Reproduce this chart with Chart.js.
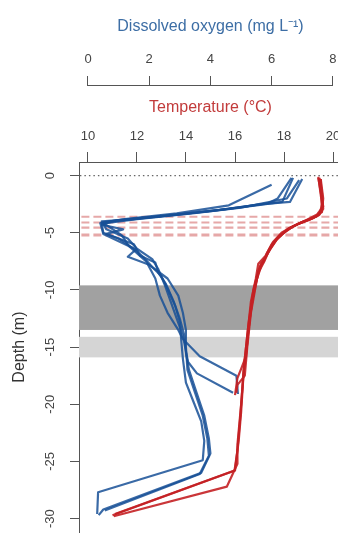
<!DOCTYPE html>
<html>
<head>
<meta charset="utf-8">
<script src="https://cdn.jsdelivr.net/npm/chart.js@4.4.1/dist/chart.umd.min.js"></script>
<style>
  html, body { margin: 0; padding: 0; background: #fff; overflow: hidden; }
  #wrap { width: 350px; height: 550px; }
</style>
</head>
<body>
<div id="wrap"><canvas id="chart" width="350" height="550"></canvas></div>
<script>
// tick labels
const oxyTicks = [0, 2, 4, 6, 8];
const tempTicks = [10, 12, 14, 16, 18, 20];
const depthTicks = [-30, -25, -20, -15, -10, -5, 0];

// dissolved oxygen profiles (mg/L) with their depths (m)
const oxyDepth1 = [-0.3, -2.3, -2.5, -3.0, -3.5, -3.9, -4.15, -5.1, -6.3, -7.1, -8.0, -8.8, -9.9, -11.4, -12.8, -14.5, -16, -18.1, -19.8, -21.5, -23.2, -24.9, -27.7, -29.6];
const oxy1 = [7.0, 6.6, 5.7, 4.3, 2.5, 1.0, 0.4, 0.5, 1.45, 1.8, 2.1, 2.4, 2.6, 2.85, 3.0, 3.05, 3.1, 3.2, 3.45, 3.7, 3.8, 3.75, 0.33, 0.3];
const oxyDepth2 = [-0.2, -2.3, -2.6, -3.1, -3.6, -4.0, -4.3, -4.7, -5.1, -6.0, -7.0, -7.6, -8.5, -9.5, -11, -12.5, -14, -15.5, -17, -19, -21, -23, -24.3, -26, -29.2, -29.7];
const oxy2 = [6.7, 6.35, 5.5, 4.0, 2.2, 0.8, 0.45, 1.15, 0.6, 1.5, 1.7, 2.2, 2.3, 2.55, 2.8, 3.0, 3.15, 3.2, 3.3, 3.55, 3.8, 3.95, 4.0, 3.7, 0.5, 0.35];
const oxyDepth3 = [-0.4, -2.0, -2.8, -3.3, -3.8, -4.2, -5.0, -5.5, -6.5, -7.1, -7.8, -9, -10.5, -12, -13.5, -15, -17, -19, -21, -23, -24.5, -26.1, -29.3];
const oxy3 = [6.9, 6.5, 5.0, 3.4, 1.6, 0.45, 0.5, 1.0, 1.55, 1.3, 2.0, 2.6, 2.95, 3.1, 3.2, 3.2, 3.25, 3.5, 3.75, 3.9, 3.95, 3.65, 0.55];
const oxyDepth4 = [-0.8, -2.6, -3.3, -3.8, -4.1, -4.5, -5.2, -6.2, -7.5, -9.0, -10.5, -12, -13.5, -14.3, -15.8, -17.5, -19.1];
const oxy4 = [6.0, 4.6, 2.9, 1.2, 0.45, 0.7, 1.1, 1.35, 1.9, 2.2, 2.35, 2.6, 2.95, 3.1, 3.65, 4.85, 4.9];
const oxyDepth5 = [-0.2, -2.0, -2.4, -2.9, -3.4, -3.8, -4.0, -4.7, -5.5, -6.4, -7.3, -8.2, -9.5, -11, -12.5, -14, -16.3, -17.3, -19.0];
const oxy5 = [6.65, 6.2, 5.9, 4.6, 3.0, 1.5, 0.45, 0.6, 1.3, 1.6, 2.1, 2.3, 2.5, 2.7, 2.9, 3.1, 3.27, 3.56, 4.74];

// temperature profiles (°C) with their depths (m)
const tempDepth1 = [-0.2, -1.5, -2.9, -3.5, -3.9, -4.3, -4.8, -5.6, -6.4, -7.7, -9.7, -12.5, -14.7, -17.3, -20.7, -23.2, -24.9, -25.8, -29.7];
const temp1 = [19.45, 19.55, 19.6, 19.4, 19.0, 18.5, 18.1, 17.7, 17.45, 17.1, 16.8, 16.6, 16.5, 16.35, 16.25, 16.15, 16.05, 16.0, 11.0];
const tempDepth2 = [-0.3, -2.0, -3.2, -3.7, -4.1, -4.5, -5.0, -5.8, -6.8, -7.6, -8.0, -10, -13, -16, -20, -23.5, -25.2, -27.2, -29.8];
const temp2 = [19.5, 19.6, 19.55, 19.2, 18.7, 18.3, 17.9, 17.55, 17.3, 17.15, 17.0, 16.75, 16.55, 16.4, 16.25, 16.1, 16.1, 15.67, 11.05];
const tempDepth3 = [-0.1, -2.5, -3.4, -3.8, -4.2, -4.6, -5.2, -6.0, -7.0, -7.7, -9, -11, -14, -17, -21, -24, -25.8, -29.6];
const temp3 = [19.4, 19.55, 19.45, 19.1, 18.6, 18.2, 17.85, 17.5, 17.25, 16.95, 16.85, 16.65, 16.5, 16.35, 16.22, 16.1, 15.98, 11.1];
const tempDepth4 = [-0.2, -2.7, -3.4, -3.9, -4.4, -5.0, -5.7, -6.5, -7.5, -8.5, -11, -14, -15.8, -16.9, -17.7, -19.2];
const temp4 = [19.4, 19.6, 19.35, 18.9, 18.4, 18.0, 17.65, 17.4, 17.2, 16.95, 16.7, 16.52, 16.45, 16.25, 16.1, 16.0];
const tempDepth5 = [-0.3, -3.0, -3.6, -4.0, -4.6, -5.3, -6.2, -7.3, -7.7, -9, -12, -15, -17.5, -18.3, -19.0];
const temp5 = [19.5, 19.55, 19.3, 18.8, 18.25, 17.8, 17.5, 17.2, 17.05, 16.9, 16.65, 16.5, 16.4, 16.1, 16.05];

// depth layers
const thermoclineDepths = [-3.6, -4.1, -4.55, -5.2];
const darkBand = [-9.6, -13.5];
const lightBand = [-14.1, -15.9];

const BLUE = "rgba(24, 80, 150, 0.85)";
const RED = "rgba(196, 32, 36, 0.9)";
const FONT = "'Liberation Sans', Arial, sans-serif";

function toPoints(vals, depths) {
  return vals.map((v, i) => ({ x: v, y: depths[i] }));
}

function profile(vals, depths, axis, color) {
  return {
    data: toPoints(vals, depths),
    xAxisID: axis,
    borderColor: color,
    borderWidth: 2.2,
    pointRadius: 0,
    showLine: true,
    tension: 0,
    borderJoinStyle: "round",
    order: 1
  };
}

const datasets = [];
// dotted surface line
datasets.push({
  data: [{ x: -1, y: 0 }, { x: 10, y: 0 }],
  xAxisID: "xDO", borderColor: "#666", borderWidth: 1.2, borderDash: [1.5, 3],
  pointRadius: 0, showLine: true, order: 5
});
// dashed thermocline lines
thermoclineDepths.forEach((d, i) => {
  datasets.push({
    data: [{ x: -1, y: d }, { x: 10, y: d }],
    xAxisID: "xDO", borderColor: "rgba(214, 110, 110, 0.6)",
    borderWidth: i === 3 ? 3 : 2.2, borderDash: [8, 4],
    pointRadius: 0, showLine: true, order: 5
  });
});
datasets.push(profile(temp1, tempDepth1, "xT", RED));
datasets.push(profile(temp2, tempDepth2, "xT", RED));
datasets.push(profile(temp3, tempDepth3, "xT", RED));
datasets.push(profile(temp4, tempDepth4, "xT", RED));
datasets.push(profile(temp5, tempDepth5, "xT", RED));
datasets.push(profile(oxy1, oxyDepth1, "xDO", BLUE));
datasets.push(profile(oxy2, oxyDepth2, "xDO", BLUE));
datasets.push(profile(oxy3, oxyDepth3, "xDO", BLUE));
datasets.push(profile(oxy4, oxyDepth4, "xDO", BLUE));
datasets.push(profile(oxy5, oxyDepth5, "xDO", BLUE));

// grey layers behind the lines
const bandPlugin = {
  id: "bands",
  beforeDatasetsDraw(chart) {
    const { ctx, chartArea } = chart;
    const y = chart.scales.y;
    ctx.save();
    [[darkBand, "#a1a1a1"], [lightBand, "#d5d5d5"]].forEach(([b, col]) => {
      const y1 = y.getPixelForValue(b[0]);
      const y2 = y.getPixelForValue(b[1]);
      ctx.fillStyle = col;
      ctx.fillRect(chartArea.left, y1, chartArea.right - chartArea.left, y2 - y1);
    });
    ctx.restore();
  }
};

// R style axis line, only from first to last tick
const oxyLinePlugin = {
  id: "oxyLine",
  afterDraw(chart) {
    const s = chart.scales.xDO;
    const ctx = chart.ctx;
    ctx.save();
    ctx.strokeStyle = "#555";
    ctx.lineWidth = 1;
    ctx.beginPath();
    ctx.moveTo(s.getPixelForValue(oxyTicks[0]), s.bottom - 0.5);
    ctx.lineTo(s.getPixelForValue(oxyTicks[oxyTicks.length - 1]), s.bottom - 0.5);
    ctx.stroke();
    ctx.restore();
  }
};

const gridOpts = { display: true, drawOnChartArea: false, drawTicks: true, tickLength: 10, color: "#555" };

new Chart(document.getElementById("chart"), {
  type: "scatter",
  data: { datasets },
  options: {
    responsive: false,
    devicePixelRatio: 1,
    animation: false,
    layout: { padding: { left: 0, top: 0, right: 8, bottom: 6 } },
    plugins: { legend: { display: false }, tooltip: { enabled: false } },
    scales: {
      xT: {
        type: "linear", axis: "x", position: "top", weight: 0,
        min: 9.633, max: 20.367,
        afterBuildTicks: s => { s.ticks = tempTicks.map(v => ({ value: v })); },
        afterFit: s => { s.height = 76; },
        grid: gridOpts,
        border: { display: true, color: "#555" },
        ticks: { padding: 8, color: "#444", font: { family: FONT, size: 13 }, autoSkip: false, maxRotation: 0 },
        title: { display: true, text: "Temperature (°C)", color: "#c23b3b", font: { family: FONT, size: 16 }, padding: { top: 11.5, bottom: 0 } }
      },
      xDO: {
        type: "linear", axis: "x", position: "top", weight: 1,
        min: -0.294, max: 8.30,
        afterBuildTicks: s => { s.ticks = oxyTicks.map(v => ({ value: v })); },
        afterFit: s => { s.height = 86; },
        grid: gridOpts,
        border: { display: false },
        ticks: { padding: 9, color: "#444", font: { family: FONT, size: 13 }, autoSkip: false, maxRotation: 0 },
        title: { display: true, text: "Dissolved oxygen (mg L\u207B\u00B9)", color: "#3d6ea5", font: { family: FONT, size: 16 }, padding: { top: 17, bottom: 0 } }
      },
      y: {
        type: "linear", position: "left",
        min: -31.19, max: 1.19,
        afterBuildTicks: s => { s.ticks = depthTicks.map(v => ({ value: v })); },
        afterFit: s => { s.width = 79; },
        grid: Object.assign({}, gridOpts, { tickLength: 9 }),
        border: { display: true, color: "#555" },
        ticks: { padding: 10, color: "#444", font: { family: FONT, size: 13 }, autoSkip: false, minRotation: 90, maxRotation: 90, crossAlign: "center" },
        title: { display: true, text: "Depth (m)", color: "#333", font: { family: FONT, size: 16 }, padding: { top: 9.5, bottom: 0 } }
      }
    }
  },
  plugins: [bandPlugin, oxyLinePlugin]
});
</script>
</body>
</html>
